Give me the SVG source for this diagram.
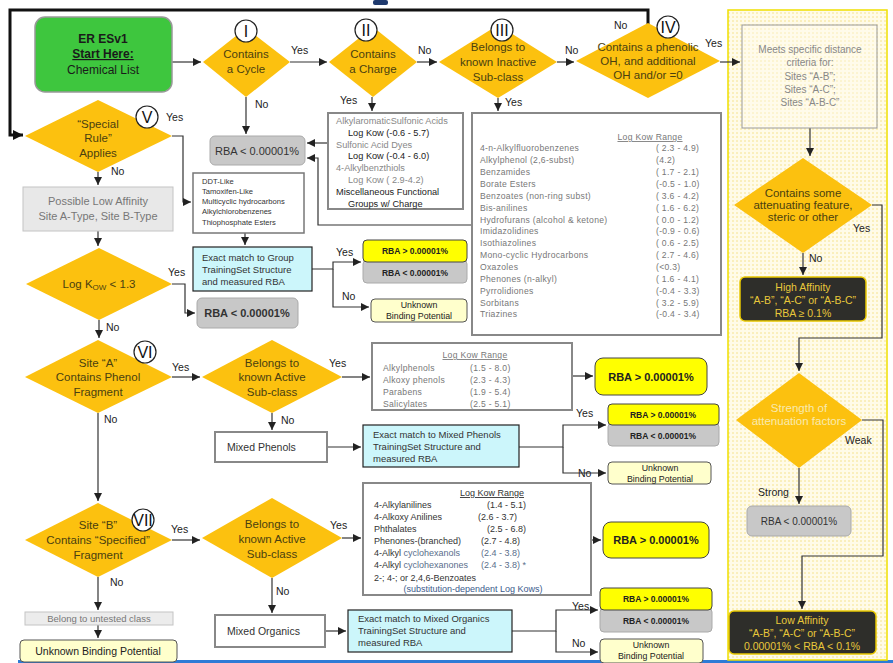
<svg xmlns="http://www.w3.org/2000/svg" width="893" height="663" viewBox="0 0 893 663">
<defs>
<pattern id="dots" width="4" height="4" patternUnits="userSpaceOnUse">
<rect width="4" height="4" fill="#fffbe8"/>
<circle cx="1" cy="1" r="0.7" fill="#f2dc70"/>
</pattern>
<marker id="ah" viewBox="0 0 10 10" refX="10" refY="5" markerWidth="8" markerHeight="8" markerUnits="userSpaceOnUse" orient="auto">
<path d="M0,0 L10,5 L0,10 z" fill="#222"/>
</marker>
<marker id="ahb" viewBox="0 0 10 10" refX="10" refY="5" markerWidth="10" markerHeight="10" markerUnits="userSpaceOnUse" orient="auto">
<path d="M0,0 L10,5 L0,10 z" fill="#111"/>
</marker>
</defs>
<style>
text{font-family:"Liberation Sans",Arial,sans-serif;}
.dia{fill:#fcc10f;stroke:none;}
.dt{font-size:11.5px;fill:#4a3f10;text-anchor:middle;}
.lbl{font-size:10.5px;fill:#222;}
.num{fill:#fff;stroke:#222;stroke-width:1.2;}
.numt{font-size:16px;fill:#111;text-anchor:middle;}
.gray{fill:#c8c8c8;stroke:#aaa;stroke-width:1;}
.grayt{font-size:11px;fill:#333;text-anchor:middle;font-weight:bold;}
.ylw{fill:#ffff00;stroke:#444;stroke-width:1;}
.cyan{fill:#ccf6fb;stroke:#222;stroke-width:1.2;}
.ct{font-size:9.5px;fill:#333;}
.list{fill:#fff;stroke:#888;stroke-width:2;}
.lt{font-size:8.6px;fill:#777;letter-spacing:0.3px;}
.unk{fill:#ffffcc;stroke:#555;stroke-width:1;}
.sm{font-size:8.5px;fill:#222;text-anchor:middle;font-weight:bold;}
.dark{fill:#2e2e2a;stroke:#e8c800;stroke-width:1.5;}
.darkt{font-size:10.5px;fill:#e8c83a;text-anchor:middle;}
.conn path{fill:none;stroke:#333;stroke-width:1.2;marker-end:url(#ah);}
</style>

<!-- background artifacts -->
<rect x="373" y="0" width="15" height="5" rx="2" fill="#1f3a6e"/>
<rect x="18" y="660" width="875" height="3" fill="#2e7bd6"/>

<!-- right yellow panel -->
<g id="panel">
<rect x="728" y="10" width="159" height="650" fill="url(#dots)" stroke="#f0e000" stroke-width="1.5"/>
</g>

<!-- connectors -->
<g class="conn" id="connectors">
<path d="M648,24 V10 H10 V135 H23" style="stroke:#111;stroke-width:3;marker-end:url(#ahb)"/>
<path d="M172,62 H201"/>
<path d="M290,62 H327"/>
<path d="M417,62 H437"/>
<path d="M557,62 H574"/>
<path d="M720,62 H740"/>
<path d="M246,97 V134"/>
<path d="M372,97 V111"/>
<path d="M498,98 V111"/>
<path d="M328,143 H307"/>
<path d="M472,225 H318 V158 H307"/>
<path d="M172,136 H183 V202 H191"/>
<path d="M98,172 V185"/>
<path d="M98,231 V246"/>
<path d="M172,284 H185 V313 H195"/>
<path d="M99,320 V338"/>
<path d="M172,377 H200"/>
<path d="M342,377 H370"/>
<path d="M272,413 V430"/>
<path d="M327,447 H361"/>
<path d="M572,376 H593"/>
<path d="M519,447 H563 V425 H606"/>
<path d="M563,447 V473 H606"/>
<path d="M98,413 V501"/>
<path d="M172,540 H200"/>
<path d="M342,538 H361"/>
<path d="M272,578 V613"/>
<path d="M325,631 H346"/>
<path d="M591,540 H601"/>
<path d="M512,631 H556 V610 H598"/>
<path d="M556,631 V652 H598"/>
<path d="M98,577 V610"/>
<path d="M98,625 V638"/>
<path d="M245,233 V245"/>
<path d="M312,269 H333 V262 H361"/>
<path d="M333,269 V307 H369"/>
<path d="M810,128 V156"/>
<path d="M872,205 H882 V338 H799 V371"/>
<path d="M803,253 V275"/>
<path d="M862,420 H883 V556 H802 V609"/>
<path d="M799,468 V504"/>
</g>

<!-- connector labels -->
<g id="labels" class="lbl">
<text x="291" y="54">Yes</text>
<text x="418" y="54">No</text>
<text x="565" y="54">No</text>
<text x="614" y="29">No</text>
<text x="705" y="47">Yes</text>
<text x="255" y="108">No</text>
<text x="340" y="104">Yes</text>
<text x="505" y="106">Yes</text>
<text x="166" y="121">Yes</text>
<text x="111" y="175">No</text>
<text x="168" y="276">Yes</text>
<text x="106" y="331">No</text>
<text x="172" y="371">Yes</text>
<text x="329" y="367">Yes</text>
<text x="281" y="424">No</text>
<text x="104" y="423">No</text>
<text x="336" y="256">Yes</text>
<text x="342" y="300">No</text>
<text x="576" y="417">Yes</text>
<text x="578" y="477">No</text>
<text x="171" y="533">Yes</text>
<text x="330" y="529">Yes</text>
<text x="110" y="586">No</text>
<text x="276" y="595">No</text>
<text x="572" y="610">Yes</text>
<text x="572" y="647">No</text>
<text x="853" y="232">Yes</text>
<text x="809" y="262">No</text>
<text x="845" y="444">Weak</text>
<text x="758" y="496">Strong</text>
</g>

<!-- start -->
<g id="start">
<rect x="35" y="17" width="137" height="75" rx="10" fill="#3ec63e" stroke="#999" stroke-width="1.5"/>
<text x="103" y="43" text-anchor="middle" font-size="12" font-weight="bold" fill="#1a1a1a">ER ESv1</text>
<text x="103" y="58" text-anchor="middle" font-size="12" font-weight="bold" fill="#1a1a1a" text-decoration="underline">Start Here:</text>
<text x="103" y="74" text-anchor="middle" font-size="12" fill="#1a1a1a">Chemical List</text>
</g>

<!-- I -->
<g id="d1">
<polygon class="dia" points="246,28 290,62 246,97 203,62"/>
<text class="dt" x="246" y="58">Contains</text>
<text class="dt" x="246" y="73">a Cycle</text>
<circle class="num" cx="246" cy="31" r="11"/>
<text class="numt" x="246" y="37">I</text>
</g>

<!-- II -->
<g id="d2">
<polygon class="dia" points="373,27 417,62 373,97 329,62"/>
<text class="dt" x="373" y="58">Contains</text>
<text class="dt" x="373" y="73">a Charge</text>
<circle class="num" cx="366" cy="30" r="11"/>
<text class="numt" x="366" y="36">II</text>
</g>

<!-- III -->
<g id="d3">
<polygon class="dia" points="498,25 557,62 498,98 439,62"/>
<text class="dt" x="498" y="51">Belongs to</text>
<text class="dt" x="498" y="66">known Inactive</text>
<text class="dt" x="498" y="81">Sub-class</text>
<circle class="num" cx="502" cy="30" r="11"/>
<text class="numt" x="502" y="36">III</text>
</g>

<!-- IV -->
<g id="d4">
<polygon class="dia" points="648,23 720,61 648,98 576,61"/>
<text class="dt" x="648" y="51" font-size="10.5">Contains a phenolic</text>
<text class="dt" x="648" y="65" font-size="10.5">OH, and additional</text>
<text class="dt" x="648" y="79" font-size="10.5">OH and/or  =0</text>
<circle class="num" cx="668" cy="27" r="11"/>
<text class="numt" x="668" y="33">IV</text>
</g>

<!-- Meets -->
<g id="meets">
<rect x="742" y="25" width="135" height="103" fill="#fffdf0" fill-opacity="0.4" stroke="#999" stroke-width="1"/>
<text x="810" y="53" text-anchor="middle" font-size="10" fill="#888">Meets specific distance</text>
<text x="810" y="66" text-anchor="middle" font-size="10" fill="#888">criteria for:</text>
<text x="810" y="80" text-anchor="middle" font-size="10" fill="#888">Sites “A-B”;</text>
<text x="810" y="93" text-anchor="middle" font-size="10" fill="#888">Sites “A-C”;</text>
<text x="810" y="106" text-anchor="middle" font-size="10" fill="#888">Sites “A-B-C”</text>
</g>

<!-- attenuating -->
<g id="atten">
<polygon class="dia" points="803,158 872,205 803,253 734,205"/>
<text class="dt" x="803" y="197" font-size="8.6">Contains some</text>
<text class="dt" x="803" y="209" font-size="8.6">attenuating feature,</text>
<text class="dt" x="803" y="221" font-size="8.6">steric or other</text>
</g>

<!-- high affinity -->
<g id="high">
<rect class="dark" x="740" y="277" width="126" height="44" rx="5"/>
<text class="darkt" x="803" y="291">High Affinity</text>
<text class="darkt" x="803" y="304">“A-B”, “A-C” or “A-B-C”</text>
<text class="darkt" x="803" y="317">RBA ≥ 0.1%</text>
</g>

<!-- strength -->
<g id="strength">
<polygon class="dia" points="799,373 862,420 799,468 736,420"/>
<text class="dt" x="799" y="412" font-size="10" style="fill:#f8eab0">Strength of</text>
<text class="dt" x="799" y="425" font-size="10" style="fill:#f8eab0">attenuation factors</text>
</g>

<!-- RBA right -->
<g id="rbaR">
<rect x="747" y="506" width="104" height="30" rx="5" fill="#c8c8c8" stroke="#aaa"/>
<text x="799" y="525" text-anchor="middle" font-size="10" fill="#333">RBA &lt; 0.00001%</text>
</g>

<!-- low affinity -->
<g id="low">
<rect class="dark" x="729" y="611" width="147" height="43" rx="5"/>
<text class="darkt" x="802" y="624">Low Affinity</text>
<text class="darkt" x="802" y="637">“A-B”, “A-C” or “A-B-C”</text>
<text class="darkt" x="802" y="650">0.00001% &lt; RBA &lt; 0.1%</text>
</g>

<!-- RBA top -->
<g id="rba1">
<rect class="gray" x="210" y="136" width="95" height="29" rx="5"/>
<text class="grayt" x="257" y="155" style="font-weight:normal">RBA &lt; 0.00001%</text>
</g>

<!-- charge list -->
<g id="chargeList">
<rect class="list" x="328" y="113" width="135" height="96"/>
<text x="336" y="124" font-size="9.2" fill="#888">AlkylaromaticSulfonic Acids</text>
<text x="348" y="136" font-size="9.2" fill="#222">Log Kow   (-0.6 - 5.7)</text>
<text x="336" y="148" font-size="9.2" fill="#888">Sulfonic Acid Dyes</text>
<text x="348" y="159" font-size="9.2" fill="#222">Log Kow   (-0.4 - 6.0)</text>
<text x="336" y="171" font-size="9.2" fill="#888">4-Alkylbenzthiols</text>
<text x="348" y="183" font-size="9.2" fill="#888">Log Kow   ( 2.9-4.2)</text>
<text x="336" y="195" font-size="9.2" fill="#222">Miscellaneous Functional</text>
<text x="348" y="207" font-size="9.2" fill="#222">Groups w/ Charge</text>
</g>

<!-- inactive list -->
<g id="inactiveList" class="lt">
<rect class="list" x="472" y="113" width="249" height="222"/>
<text x="650" y="140" text-anchor="middle" text-decoration="underline">Log Kow Range</text>
<text x="480" y="151">4-n-Alkylfluorobenzenes</text><text x="656" y="151">( 2.3 - 4.9)</text>
<text x="480" y="163">Alkylphenol (2,6-subst)</text><text x="656" y="163">(4.2)</text>
<text x="480" y="175">Benzamides</text><text x="656" y="175">( 1.7 - 2.1)</text>
<text x="480" y="187">Borate Esters</text><text x="656" y="187">(-0.5 - 1.0)</text>
<text x="480" y="199">Benzoates (non-ring subst)</text><text x="656" y="199">( 3.6 - 4.2)</text>
<text x="480" y="211">Bis-anilines</text><text x="656" y="211">( 1.6 - 6.2)</text>
<text x="480" y="223">Hydrofurans (alcohol &amp; ketone)</text><text x="656" y="223">( 0.0 - 1.2)</text>
<text x="480" y="234">Imidazolidines</text><text x="656" y="234">(-0.9 - 0.6)</text>
<text x="480" y="246">Isothiazolines</text><text x="656" y="246">( 0.6 - 2.5)</text>
<text x="480" y="258">Mono-cyclic Hydrocarbons</text><text x="656" y="258">( 2.7 - 4.6)</text>
<text x="480" y="270">Oxazoles</text><text x="656" y="270">(&lt;0.3)</text>
<text x="480" y="282">Phenones (n-alkyl)</text><text x="656" y="282">( 1.6 - 4.1)</text>
<text x="480" y="294">Pyrrolidiones</text><text x="656" y="294">(-0.4 - 3.3)</text>
<text x="480" y="306">Sorbitans</text><text x="656" y="306">( 3.2 - 5.9)</text>
<text x="480" y="317">Triazines</text><text x="656" y="317">(-0.4 - 3.4)</text>
</g>

<!-- special rule V -->
<g id="d5">
<polygon class="dia" points="98,100 172,136 98,172 25,136"/>
<text class="dt" x="98" y="128">“Special</text>
<text class="dt" x="98" y="142">Rule”</text>
<text class="dt" x="98" y="157">Applies</text>
<circle class="num" cx="147" cy="117" r="11"/>
<text class="numt" x="147" y="123">V</text>
</g>

<!-- DDT list -->
<g id="ddtList">
<rect x="193" y="173" width="111" height="60" fill="#fff" stroke="#777" stroke-width="1.5"/>
<text x="202" y="184" font-size="7.6" fill="#333">DDT-Like</text>
<text x="202" y="194" font-size="7.6" fill="#333">Tamoxifen-Like</text>
<text x="202" y="204" font-size="7.6" fill="#333">Multicyclic hydrocarbons</text>
<text x="202" y="214" font-size="7.6" fill="#333">Alkylchlorobenzenes</text>
<text x="202" y="225" font-size="7.6" fill="#333">Thiophosphate Esters</text>
</g>

<!-- possible low -->
<g id="possLow">
<rect x="23" y="187" width="150" height="44" fill="#e8e8e8" stroke="#c4c4c4"/>
<text x="98" y="205" text-anchor="middle" font-size="11" fill="#777">Possible Low Affinity</text>
<text x="98" y="220" text-anchor="middle" font-size="11" fill="#777">Site A-Type, Site B-Type</text>
</g>

<!-- group match -->
<g id="groupMatch">
<rect class="cyan" x="193" y="247" width="119" height="44"/>
<text class="ct" x="202" y="261">Exact match to Group</text>
<text class="ct" x="202" y="273">TrainingSet Structure</text>
<text class="ct" x="202" y="285">and measured RBA</text>
</g>

<g id="res1">
<rect class="gray" x="363" y="260" width="104" height="23" rx="4"/>
<rect class="ylw" x="363" y="240" width="104" height="22" rx="4"/>
<text class="sm" x="415" y="254">RBA &gt; 0.00001%</text>
<text class="sm" x="415" y="276">RBA &lt; 0.00001%</text>
</g>
<g id="unk1">
<rect class="unk" x="371" y="299" width="96" height="23" rx="4"/>
<text x="419" y="308" text-anchor="middle" font-size="8.8" fill="#222">Unknown</text>
<text x="419" y="319" text-anchor="middle" font-size="8.8" fill="#222">Binding Potential</text>
</g>

<!-- logkow -->
<g id="d6">
<polygon class="dia" points="99,248 172,284 99,320 26,284"/>
<text class="dt" x="99" y="288">Log K<tspan font-size="8" dy="2">OW</tspan><tspan dy="-2"> &lt; 1.3</tspan></text>
</g>
<g id="rba2">
<rect class="gray" x="197" y="298" width="101" height="30" rx="5"/>
<text class="grayt" x="247" y="317">RBA &lt; 0.00001%</text>
</g>

<!-- VI -->
<g id="d7">
<polygon class="dia" points="98,340 172,377 98,413 25,377"/>
<text class="dt" x="98" y="367">Site “A”</text>
<text class="dt" x="98" y="381">Contains Phenol</text>
<text class="dt" x="98" y="396">Fragment</text>
<circle class="num" cx="145" cy="352" r="11"/>
<text class="numt" x="145" y="358">VI</text>
</g>

<g id="d8">
<polygon class="dia" points="272,340 342,377 272,413 202,377"/>
<text class="dt" x="272" y="367">Belongs to</text>
<text class="dt" x="272" y="381">known Active</text>
<text class="dt" x="272" y="396">Sub-class</text>
</g>

<g id="phenolList" class="lt">
<rect class="list" x="372" y="343" width="200" height="67"/>
<text x="475" y="358" text-anchor="middle" text-decoration="underline">Log Kow Range</text>
<text x="383" y="371">Alkylphenols</text><text x="470" y="371">(1.5 - 8.0)</text>
<text x="383" y="383">Alkoxy phenols</text><text x="470" y="383">(2.3 - 4.3)</text>
<text x="383" y="395">Parabens</text><text x="470" y="395">(1.9 - 5.4)</text>
<text x="383" y="407">Salicylates</text><text x="470" y="407">(2.5 - 5.1)</text>
</g>

<g id="rbaY1">
<rect x="595" y="358" width="112" height="37" rx="8" fill="#ffff00" stroke="#444"/>
<text x="651" y="381" text-anchor="middle" font-size="11" font-weight="bold" fill="#222">RBA &gt; 0.00001%</text>
</g>

<g id="mixedPhenols">
<rect x="215" y="432" width="112" height="30" fill="#fff" stroke="#888" stroke-width="2"/>
<text x="227" y="451" font-size="10.5" fill="#333">Mixed Phenols</text>
</g>

<g id="phenolMatch">
<rect class="cyan" x="363" y="425" width="156" height="42"/>
<text class="ct" x="373" y="438">Exact match to Mixed Phenols</text>
<text class="ct" x="373" y="450">TrainingSet Structure and</text>
<text class="ct" x="373" y="462">measured RBA</text>
</g>

<g id="res2">
<rect class="gray" x="608" y="423" width="111" height="23" rx="4"/>
<rect class="ylw" x="608" y="404" width="111" height="21" rx="4"/>
<text class="sm" x="663" y="418">RBA &gt; 0.00001%</text>
<text class="sm" x="663" y="439">RBA &lt; 0.00001%</text>
</g>
<g id="unk2">
<rect class="unk" x="608" y="462" width="103" height="22" rx="4"/>
<text x="660" y="471" text-anchor="middle" font-size="8.8" fill="#222">Unknown</text>
<text x="660" y="482" text-anchor="middle" font-size="8.8" fill="#222">Binding Potential</text>
</g>

<!-- VII -->
<g id="d9">
<polygon class="dia" points="98,503 172,540 98,577 25,540"/>
<text class="dt" x="98" y="529">Site “B”</text>
<text class="dt" x="98" y="544">Contains “Specified”</text>
<text class="dt" x="98" y="559">Fragment</text>
<circle class="num" cx="143" cy="520" r="11"/>
<text class="numt" x="143" y="526">VII</text>
</g>

<g id="d10">
<polygon class="dia" points="272,498 342,538 272,578 202,538"/>
<text class="dt" x="272" y="528">Belongs to</text>
<text class="dt" x="272" y="543">known Active</text>
<text class="dt" x="272" y="558">Sub-class</text>
</g>

<g id="organicList">
<rect class="list" x="363" y="483" width="228" height="112"/>
<text x="492" y="496" text-anchor="middle" font-size="9" fill="#333" text-decoration="underline">Log Kow Range</text>
<g font-size="9" fill="#333">
<text x="374" y="508">4-Alkylanilines</text><text x="487" y="508">(1.4 - 5.1)</text>
<text x="374" y="520">4-Alkoxy Anilines</text><text x="478" y="520">(2.6 - 3.7)</text>
<text x="374" y="532">Phthalates</text><text x="487" y="532">(2.5 - 6.8)</text>
<text x="374" y="544">Phenones-(branched)</text><text x="481" y="544">(2.7 - 4.8)</text>
<text x="374" y="556">4-Alkyl <tspan fill="#5a6e8c">cyclohexanols</tspan></text><text x="481" y="556" fill="#5a6e8c">(2.4 - 3.8)</text>
<text x="374" y="568">4-Alkyl <tspan fill="#5a6e8c">cyclohexanones</tspan></text><text x="481" y="568" fill="#5a6e8c">(2.4 - 3.8) *</text>
<text x="374" y="581">2-; 4-; or 2,4,6-Benzoates</text>
<text x="473" y="592" text-anchor="middle" fill="#3c5a8c">(substitution-dependent Log Kows)</text>
</g>
</g>

<g id="rbaY2">
<rect x="603" y="522" width="106" height="36" rx="8" fill="#ffff00" stroke="#444"/>
<text x="656" y="544" text-anchor="middle" font-size="11" font-weight="bold" fill="#222">RBA &gt; 0.00001%</text>
</g>

<g id="mixedOrganics">
<rect x="215" y="615" width="110" height="32" fill="#fff" stroke="#888" stroke-width="2"/>
<text x="227" y="635" font-size="10.5" fill="#333">Mixed Organics</text>
</g>

<g id="organicMatch">
<rect class="cyan" x="348" y="610" width="164" height="42"/>
<text class="ct" x="358" y="622">Exact match to Mixed Organics</text>
<text class="ct" x="358" y="634">TrainingSet Structure and</text>
<text class="ct" x="358" y="646">measured RBA</text>
</g>

<g id="res3">
<rect class="gray" x="600" y="608" width="112" height="24" rx="4"/>
<rect class="ylw" x="600" y="588" width="112" height="22" rx="4"/>
<text class="sm" x="656" y="602">RBA &gt; 0.00001%</text>
<text class="sm" x="656" y="624">RBA &lt; 0.00001%</text>
</g>
<g id="unk3">
<rect class="unk" x="600" y="639" width="103" height="24" rx="4"/>
<text x="651" y="648" text-anchor="middle" font-size="8.8" fill="#222">Unknown</text>
<text x="651" y="659" text-anchor="middle" font-size="8.8" fill="#222">Binding Potential</text>
</g>

<g id="untested">
<rect x="25" y="612" width="148" height="13" fill="#ececec" stroke="#c4c4c4"/>
<text x="99" y="622" text-anchor="middle" font-size="9.5" fill="#777">Belong to untested class</text>
</g>

<g id="unkB">
<rect class="unk" x="20" y="640" width="157" height="22" rx="4"/>
<text x="98" y="655" text-anchor="middle" font-size="10.5" fill="#222">Unknown Binding Potential</text>
</g>
</svg>
